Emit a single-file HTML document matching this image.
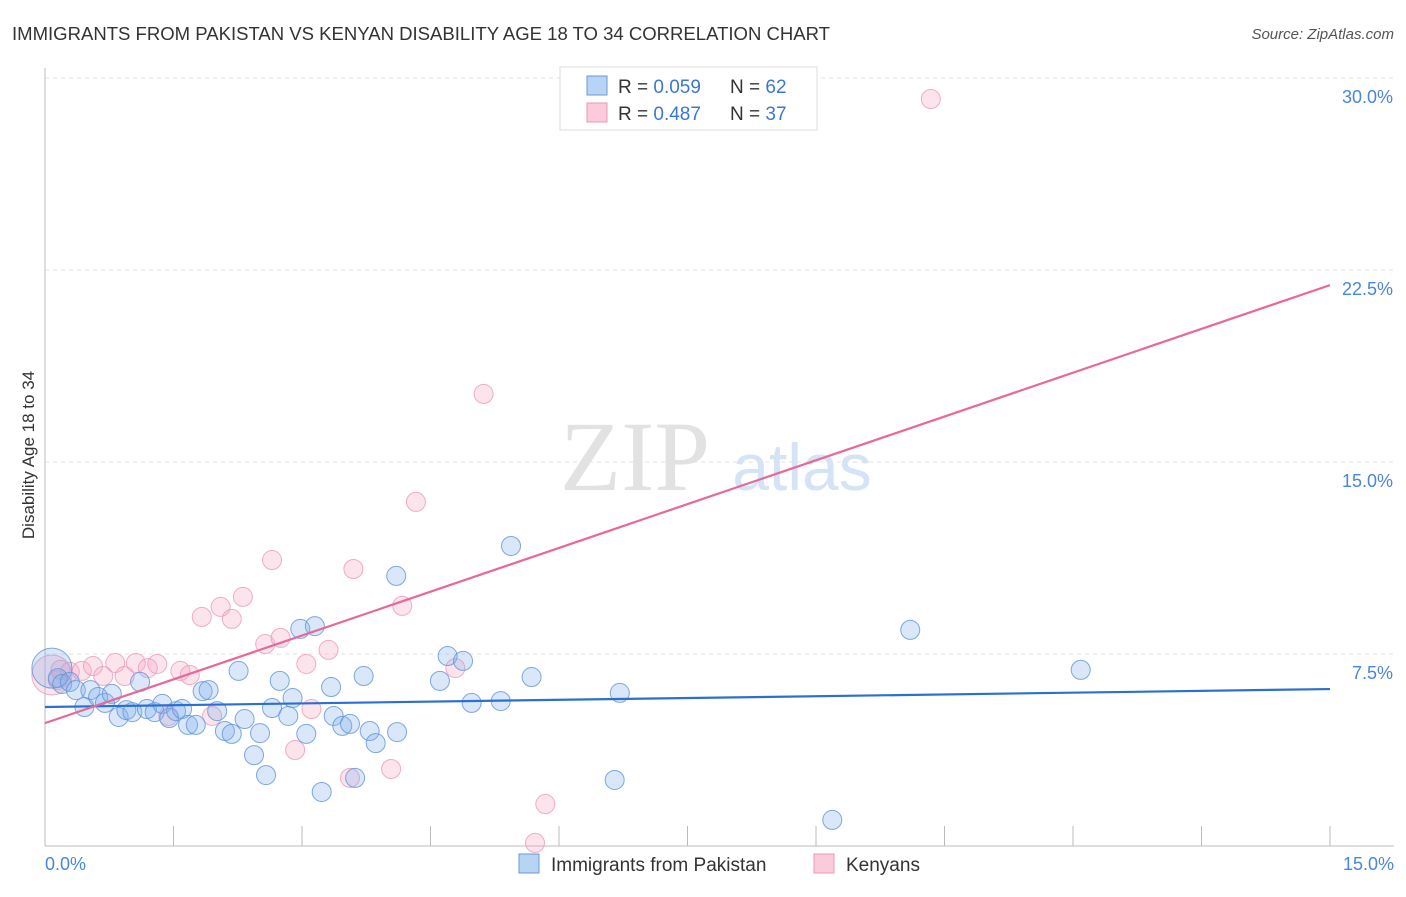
<!DOCTYPE html>
<html><head><meta charset="utf-8"><style>
body{margin:0;background:#fff;font-family:"Liberation Sans",sans-serif}
</style></head><body>
<svg id="chart" width="1406" height="892" font-family="Liberation Sans, sans-serif">
<text x="12" y="40" font-size="18" fill="#333" textLength="818" lengthAdjust="spacingAndGlyphs">IMMIGRANTS FROM PAKISTAN VS KENYAN DISABILITY AGE 18 TO 34 CORRELATION CHART</text>
<text x="1394" y="39" font-size="15" fill="#555" text-anchor="end" font-style="italic">Source: ZipAtlas.com</text>
<text x="635" y="490" font-size="100" fill="#e2e2e2" style="font-family:'Liberation Serif',serif" text-anchor="middle">ZIP</text>
<text x="802" y="490" font-size="66" fill="#d4e3f5" text-anchor="middle">atlas</text>
<g id="grid"></g><g id="marks"></g>
<text transform="translate(34,455) rotate(-90)" font-size="17" fill="#333" text-anchor="middle">Disability Age 18 to 34</text>
<g>
<rect x="560" y="67" width="257" height="63" fill="#fff" stroke="#ddd"/>
<rect x="587" y="76" width="20" height="19" fill="#b8d4f5" stroke="#6a9ad8"/>
<rect x="587" y="103" width="20" height="19" fill="#fbcadb" stroke="#ea9ab5"/>
<text x="618" y="93" font-size="19" fill="#333">R = <tspan fill="#3a78d4">0.059</tspan></text>
<text x="730" y="93" font-size="19" fill="#333">N = <tspan fill="#3a78d4">62</tspan></text>
<text x="618" y="120" font-size="19" fill="#333">R = <tspan fill="#3a78d4">0.487</tspan></text>
<text x="730" y="120" font-size="19" fill="#333">N = <tspan fill="#3a78d4">37</tspan></text>
</g>
<g>
<rect x="519" y="854" width="20" height="19" fill="#b8d4f5" stroke="#6a9ad8"/>
<text x="551" y="871" font-size="19" fill="#333">Immigrants from Pakistan</text>
<rect x="814" y="854" width="20" height="19" fill="#fbcadb" stroke="#ea9ab5"/>
<text x="846" y="871" font-size="19" fill="#333">Kenyans</text>
</g>
</svg>
<script>
const xTicks=[0,15];
const yTicks=[7.5,15,22.5,30];
const yTickLabels=["7.5%","15.0%","22.5%","30.0%"];
const blueX=[0.08,0.15,0.20,0.29,0.36,0.53,0.46,0.62,0.70,0.78,0.86,0.95,1.02,1.11,1.19,1.28,1.37,1.45,1.53,1.60,1.67,1.76,1.84,1.91,2.01,2.10,2.18,2.26,2.33,2.44,2.51,2.58,2.65,2.74,2.84,2.89,2.98,3.05,3.15,3.23,3.34,3.37,3.47,3.56,3.62,3.72,3.79,3.86,4.10,4.11,4.61,4.70,4.88,4.98,5.32,5.44,5.68,6.65,6.71,9.19,10.10,12.09];
const blueY=[6.95,6.56,6.33,6.41,6.09,6.09,5.43,5.82,5.59,5.94,5.04,5.31,5.23,6.41,5.35,5.23,5.55,5.00,5.27,5.35,4.73,4.73,6.05,6.09,5.27,4.49,4.38,6.84,4.96,3.55,4.41,2.77,5.39,6.45,5.08,5.78,8.48,4.38,8.59,2.11,6.21,5.08,4.69,4.77,2.66,6.64,4.49,4.02,10.55,4.45,6.45,7.42,7.23,5.59,5.66,11.72,6.60,2.58,5.98,1.02,8.44,6.88];
const pinkX=[0.08,0.15,0.18,0.29,0.43,0.56,0.68,0.82,0.93,1.06,1.20,1.31,1.44,1.58,1.69,1.95,1.83,2.05,2.18,2.31,2.57,2.65,2.75,2.92,3.05,3.11,3.31,3.56,3.60,4.04,4.17,4.33,4.79,5.12,5.84,5.72,10.34];
const pinkY=[6.68,6.48,6.88,6.80,6.84,7.03,6.64,7.15,6.64,7.15,6.95,7.11,5.08,6.84,6.68,5.08,8.95,9.34,8.87,9.73,7.89,11.17,8.13,3.75,7.11,5.35,7.66,2.66,10.82,3.01,9.38,13.44,6.95,17.66,1.64,0.12,29.18];
const blueLine=[5.43,6.13];
const pinkLine=[4.80,21.91];
const NS="http://www.w3.org/2000/svg";
const X=v=>45+v/15*1285, Y=v=>846-v/7.5*192;
function mk(t,a,p){const e=document.createElementNS(NS,t);for(const k in a)e.setAttribute(k,a[k]);p.appendChild(e);return e;}
const grid=document.getElementById('grid'), marks=document.getElementById('marks');
yTicks.forEach((t,i)=>{
 const l=mk('line',{x1:45,x2:1394,y1:Y(t),y2:Y(t),stroke:'#e2e2e2','stroke-dasharray':'4,4'},grid);
 
 
 const tx=mk('text',{x:1393,y:Y(t)+25,'font-size':18,fill:'#4a86dc','text-anchor':'end'},grid);
 tx.textContent=yTickLabels[i];
 
 
});
const ax=mk('line',{x1:45,x2:45,y1:68,y2:846,stroke:'#bbb'},grid);


const bx=mk('line',{x1:45,x2:1394,y1:846,y2:846,stroke:'#bbb'},grid);


for(let k=1;k<=10;k++){const v=k*1.5;
 const t=mk('line',{x1:X(v),x2:X(v),y1:826,y2:846,stroke:'#bbb'},grid);
 
 }
xTicks.forEach((t,i)=>{
 const tx=mk('text',{x:i?1394:45,y:870,'font-size':18,fill:'#4a86dc','text-anchor':i?'end':'start'},grid);
 tx.textContent=t.toFixed(1)+'%';
 
 
});
function pts(xs,ys,fill,stroke,name){xs.forEach((x,i)=>{
 const c=mk('circle',{cx:X(x),cy:Y(ys[i]),r:i===0?20:9.5,fill:fill,stroke:stroke,'stroke-width':1,'stroke-opacity':0.8},marks);
 
 });}
pts(pinkX,pinkY,'rgba(244,165,195,0.3)','#ee9ab7','kenyans-point');
pts(blueX,blueY,'rgba(130,175,235,0.3)','#5f93da','pakistan-point');
const bl=mk('line',{x1:X(0),y1:Y(blueLine[0]),x2:X(15),y2:Y(blueLine[1]),stroke:'#2a6fd4','stroke-width':2.2},marks);


const pl=mk('line',{x1:X(0),y1:Y(pinkLine[0]),x2:X(15),y2:Y(pinkLine[1]),stroke:'#e8689a','stroke-width':2.2},marks);


</script>
</body></html>
